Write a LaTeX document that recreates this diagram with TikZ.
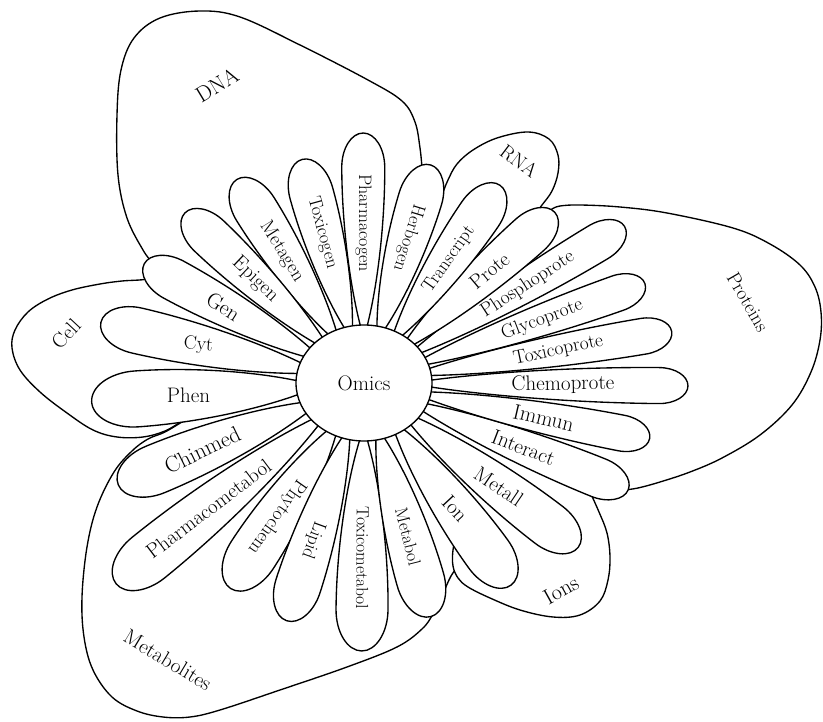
\documentclass[tikz,border=0pt]{standalone}
\usetikzlibrary{calc,shapes.geometric}
\newcommand\fsz[1]{\fontsize{#1}{#1}\selectfont}
\tikzset{
  outl/.style={draw=black, fill=white, line width=1.35pt, line join=round},
  region/.style={outl},
  petalshape/.style={outl},
  lbl/.style={inner sep=0pt, text=black},
}
\newcommand\drawpetal[7]{%
  \begin{scope}[shift={(C)}, rotate=#2]
    \pgfmathsetmacro\pta{0.8*#4}
    \pgfmathsetmacro\ptm{#3-\pta}
    \pgfmathsetmacro\ptD{\ptm-45}
    \pgfmathsetmacro\ptone{45+0.25*\ptD}
    \pgfmathsetmacro\pttwo{\ptm-0.35*\ptD}
    \pgfmathsetmacro\pth{#4/2}
    \pgfmathsetmacro\ptcy{0.3*#4}
    \pgfmathsetmacro\pttx{\ptm+0.552*\pta}
    \pgfmathsetmacro\ptty{0.552*\pth}
    \path[petalshape] (45,0) .. controls (\ptone,\ptcy) and (\pttwo,\pth) .. (\ptm,\pth)
      .. controls (\pttx,\pth) and (#3,\ptty) .. (#3,0)
      .. controls (#3,-\ptty) and (\pttx,-\pth) .. (\ptm,-\pth)
      .. controls (\pttwo,-\pth) and (\ptone,-\ptcy) .. (45,0) -- cycle;
    \node[lbl, #6] (#1) at (#5,0) {#7};
  \end{scope}}
\begin{document}
\begin{tikzpicture}[x=1pt, y=1pt]
\useasboundingbox (0,0) rectangle (823,-722);
\coordinate (C) at (364,-383);

% ---------- regions ----------
% DNA
\path[region] (C) -- ($(C)+(151.5:185)$) -- plot[smooth, tension=0.6] coordinates {(152,-262) (143,-250) (127,-218) (118,-175) (117,-115) (121,-70) (134,-38) (160,-18) (200,-11) (240,-17) (300,-45) (368,-80) (402,-101) (415,-122) (420,-148) (422,-168)} -- ($(C)+(73:185)$) -- cycle;
% RNA
\path[region] (C) -- ($(C)+(73:150)$) -- plot[smooth, tension=0.6] coordinates {(437,-208) (442,-195) (448,-180) (457,-164) (473,-150) (497,-138) (528,-132) (549,-139) (558,-155) (558,-173) (552,-191) (542,-205) (535,-214)} -- ($(C)+(41.8:150)$) -- cycle;
% Proteins
\path[region] (C) -- ($(C)+(41.8:150)$) -- (548,-213) -- plot[smooth, tension=0.6] coordinates {(552,-209) (560,-206) (580,-205) (620,-207) (667,-213) (733,-228) (770,-244) (800,-265) (815,-287) (821,-312) (820,-340) (811,-372) (792,-405) (760,-435) (722,-458) (690,-472) (660,-482) (638,-488) (624,-490)} -- ($(C)+(338:150)$) -- cycle;
% Metabolites
\path[region] (C) -- ($(C)+(184:150)$) -- plot[smooth, tension=0.6] coordinates {(185,-420) (165,-432) (148,-439) (132,-451) (114,-472) (97,-507) (87,-547) (82,-597) (84,-637) (93,-670) (112,-697) (137,-711) (163,-717) (190,-717) (220,-710) (280,-690) (347,-667) (397,-647) (422,-629) (433,-614) (442,-596) (451,-576) (462,-560) (466,-545)} -- ($(C)+(306:150)$) -- cycle;
% Cell
\path[region] (C) -- ($(C)+(151.5:150)$) -- plot[smooth, tension=0.6] coordinates {(160,-272) (147,-279) (122,-281) (100,-284) (72,-290) (48,-299) (28,-312) (15,-330) (12,-348) (20,-370) (40,-392) (67,-413) (93,-430) (117,-437) (143,-437) (165,-431) (182,-421)} -- ($(C)+(184:150)$) -- cycle;
% Ions
\path[region] (C) -- ($(C)+(306:150)$) -- plot[smooth, tension=0.6] coordinates {(457,-533) (453,-550) (453,-566) (458,-578) (468,-587) (490,-598) (520,-610) (553,-617) (580,-615) (600,-601) (608,-580) (610,-557) (607,-533) (599,-512) (590,-492)} -- ($(C)+(338:150)$) -- cycle;

% region labels
\node[lbl, rotate=31, font=\fsz{22}] (dna) at (217,-85) {DNA};
\node[lbl, rotate=-37, font=\fsz{20}] (rna) at (519,-161) {RNA};
\node[lbl, rotate=-60, font=\fsz{19.5}] (proteins) at (748,-302) {Proteins};
\node[lbl, rotate=47, font=\fsz{20.5}] (cell) at (66,-334) {Cell};
\node[lbl, rotate=-31, font=\fsz{21}] (metabolites) at (168,-660) {Metabolites};
\node[lbl, rotate=29, font=\fsz{22}] (ions) at (561,-590) {Ions};

% ---------- petals ----------
\drawpetal{pharmacogen}{90.2}{250}{43}{160}{rotate=-90, font=\fsz{18}}{Pharmacogen}
\drawpetal{herbogen}{73}{228}{44}{152}{rotate=-107, font=\fsz{18.2}}{Herbogen}
\drawpetal{toxicogen}{105.5}{232}{44}{156}{rotate=-74.5, font=\fsz{18.4}}{Toxicogen}
\drawpetal{metagen}{122}{240}{44}{155}{rotate=-58, font=\fsz{19.6}}{Metagen}
\drawpetal{epigen}{136.5}{247}{42}{150}{rotate=-43.5, font=\fsz{20.3}}{Epigen}
\drawpetal{gen}{151.5}{250}{42}{160}{rotate=-32, font=\fsz{21.5}}{Gen}
\drawpetal{cyt}{167}{270}{46}{170}{rotate=-5, font=\fsz{19.3}}{Cyt}
\drawpetal{phen}{184}{273}{56}{176}{rotate=0, font=\fsz{21}}{Phen}
\drawpetal{chinmed}{202.5}{266}{50}{175}{rotate=26, font=\fsz{22.5}}{Chinmed}
\drawpetal{pharmacometabol}{219}{319}{52}{200}{rotate=37, font=\fsz{20.7}}{Pharmacometabol}
\drawpetal{phytochem}{237}{245}{50}{160}{rotate=-125, font=\fsz{19.3}}{Phytochem}
\drawpetal{lipid}{252}{250}{46}{165}{rotate=-110, font=\fsz{18.5}}{Lipid}
\drawpetal{toxicometabol}{269.5}{268}{52}{175}{rotate=-90.5, font=\fsz{17.5}}{Toxicometabol}
\drawpetal{metabol}{286}{243}{48}{160}{rotate=-76, font=\fsz{18}}{Metabol}
\drawpetal{ion}{306}{250}{48}{155}{rotate=-47, font=\fsz{21}}{Ion}
\drawpetal{metall}{322.5}{270}{46}{170}{rotate=-34, font=\fsz{21}}{Metall}
\drawpetal{interact}{338}{285}{40}{172}{rotate=-21, font=\fsz{21}}{Interact}
\drawpetal{immun}{349}{291}{36}{183}{rotate=-13, font=\fsz{21.5}}{Immun}
\drawpetal{chemoprote}{359.5}{324}{36}{199}{rotate=1, font=\fsz{21}}{Chemoprote}
\drawpetal{toxicoprote}{9.5}{312}{36}{197}{rotate=12, font=\fsz{19.4}}{Toxicoprote}
\drawpetal{glycoprote}{19.5}{298}{36}{189}{rotate=21, font=\fsz{19.4}}{Glycoprote}
\drawpetal{phosphoprote}{31}{304}{38}{191}{rotate=33, font=\fsz{19.4}}{Phosphoprote}
\drawpetal{prote}{41.8}{256}{42}{168}{rotate=40, font=\fsz{20.5}}{Prote}
\drawpetal{transcript}{55.5}{240}{44}{150}{rotate=54.7, font=\fsz{18.5}}{Transcript}

% ---------- centre ----------
\node[ellipse, outl, minimum width=136pt, minimum height=116pt, inner sep=0pt, font=\fsz{21}] (omics) at (C) {Omics};
\end{tikzpicture}
\end{document}
